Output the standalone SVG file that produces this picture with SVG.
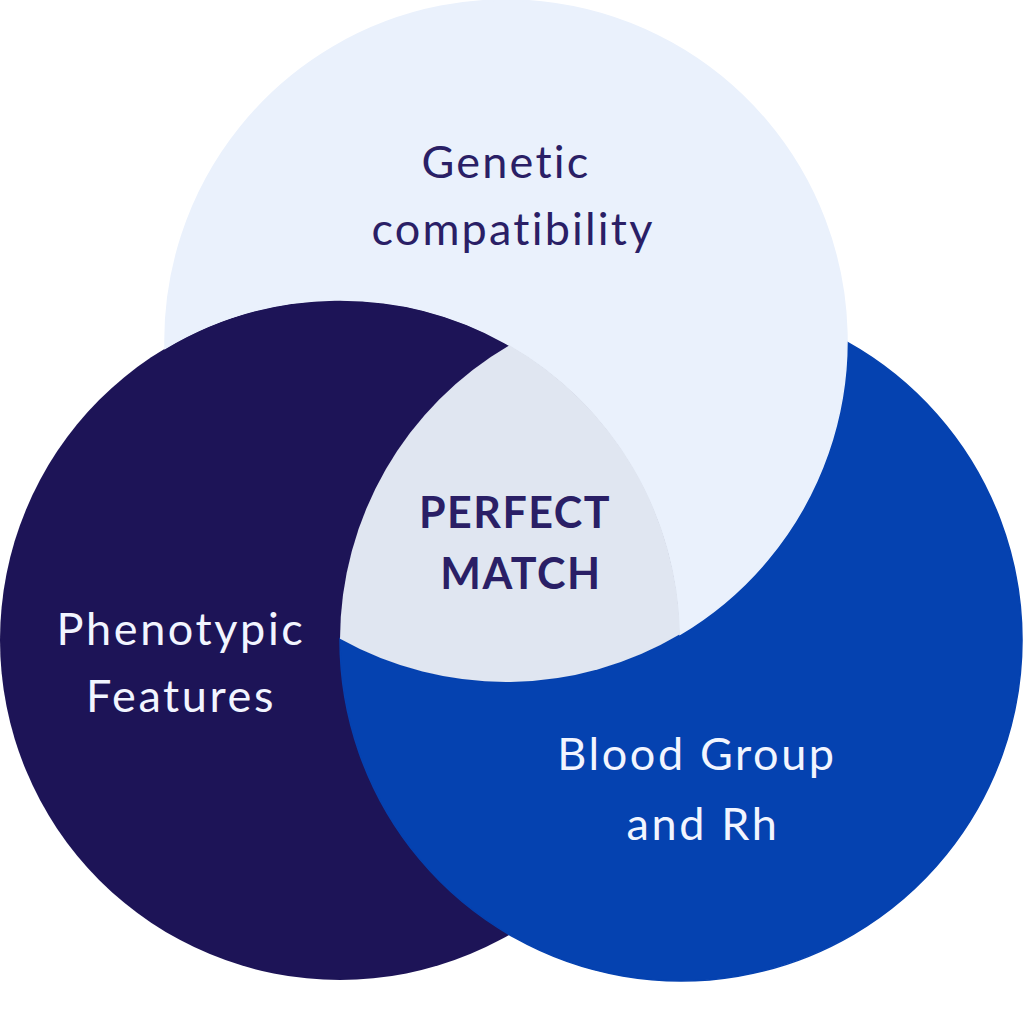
<svg xmlns="http://www.w3.org/2000/svg" width="1024" height="1024" viewBox="0 0 1024 1024">
  <defs>
    <style>
      .lbl { font-family: Lato, "Noto Sans", "Liberation Sans", sans-serif; font-size: 45px; text-anchor: middle; }
      .dark { fill: #2A1F66; letter-spacing: 2.2px; }
      .white { fill: #F2F5FF; letter-spacing: 2.6px; }
      .bold { font-weight: 700; font-size: 43px; letter-spacing: 1.5px; }
    </style>
  </defs>
  <rect width="1024" height="1024" fill="#FFFFFF"/>
  <g id="node-phenotypic">
    <circle cx="340" cy="640" r="340" fill="#1D1457"/>
  </g>
  <g id="node-blood">
    <path d="M846.99,342.13 A341,341 0 1 1 340.01,638.87 A341,341 0 0 0 846.99,342.13 Z" fill="#0542B0" stroke="#0542B0" stroke-width="1.5"/>
  </g>
  <g id="node-genetic">
    <path d="M165.08,348.44 A341,341 0 1 1 679.96,634.30 A340,340 0 0 0 165.08,348.44 Z" fill="#EAF1FC" stroke="#EAF1FC" stroke-width="1.5"/>
  </g>
  <g id="node-perfect-match">
    <path d="M509.5,345.26 A341,341 0 0 0 340.01,638.87 A341,341 0 0 0 679.96,634.30 A340,340 0 0 0 509.5,345.26 Z" fill="#E0E6F1"/>
  </g>
  <g id="connectors"></g>
  <g id="labels">
    <text class="lbl dark" x="506" y="178">Genetic</text>
    <text class="lbl dark" x="513" y="245">compatibility</text>
    <text class="lbl dark bold" x="515" y="528">PERFECT</text>
    <text class="lbl dark bold" x="521" y="589">MATCH</text>
    <text class="lbl white" x="181" y="645">Phenotypic</text>
    <text class="lbl white" x="181" y="712">Features</text>
    <text class="lbl white" x="697" y="770">Blood Group</text>
    <text class="lbl white" x="703" y="840">and Rh</text>
  </g>
</svg>
